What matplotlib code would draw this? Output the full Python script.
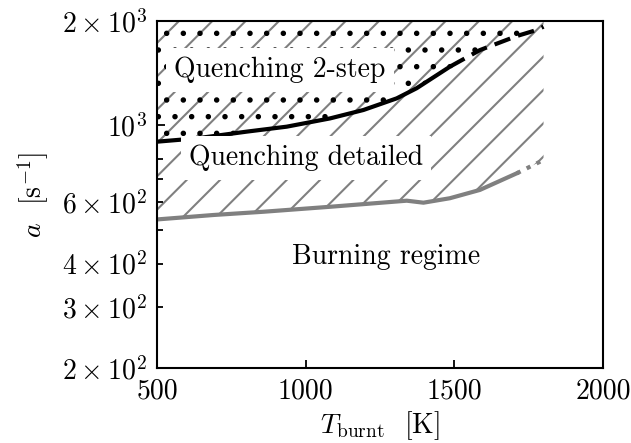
import numpy as np
import matplotlib
matplotlib.use('Agg')
from matplotlib import pyplot as plt

# quenching limit, 2-step chemistry (solid, then dashed)
T_2step = [500, 633, 802, 936, 1082, 1194, 1306, 1373, 1485]
a_2step = [898, 918, 960, 992, 1048, 1108, 1197, 1280, 1477]
T_2step_ext = [1485, 1586, 1710, 1777, 1800]
a_2step_ext = [1477, 1649, 1810, 1884, 1926]

# quenching limit, detailed chemistry (solid, then dotted)
T_det = [500, 689, 857, 1082, 1340, 1396, 1485, 1586, 1710]
a_det = [536, 552, 564, 583, 607, 599, 617, 652, 728]
T_det_ext = [1710, 1788, 1800]
a_det_ext = [728, 786, 795]

a_top = 2000

plt.rcParams['font.family'] = 'serif'
plt.rcParams['font.serif'] = ['cmr10']
plt.rcParams['mathtext.fontset'] = 'cm'
plt.rcParams['axes.formatter.use_mathtext'] = True
plt.rcParams['font.size'] = 20
plt.rcParams['hatch.linewidth'] = 1.5

fig = plt.figure(figsize=(6.31, 4.43), dpi=100)
ax = fig.add_axes([0.249, 0.1693, 0.7066, 0.7833])

T_all = np.array(T_det + T_det_ext[1:])
a_all = np.array(a_det + a_det_ext[1:])
ax.fill_between(T_all, a_all, a_top, facecolor='none', edgecolor='gray',
                hatch='/', linewidth=0)
T2_all = np.array(T_2step + T_2step_ext[1:])
a2_all = np.array(a_2step + a_2step_ext[1:])
ax.fill_between(T2_all, a2_all, a_top, facecolor='none', edgecolor='black',
                hatch='.', linewidth=0)

ax.plot(T_2step, a_2step, color='black', lw=3)
ax.plot(T_2step_ext, a_2step_ext, color='black', lw=3, ls=(0, (4, 2)))
ax.plot(T_det, a_det, color='gray', lw=3)
ax.plot(T_det_ext, a_det_ext, color='gray', lw=3, ls=':')

box = dict(boxstyle='square,pad=0.3', facecolor='white', edgecolor='none')
ax.text(0.276, 0.859, 'Quenching 2-step', transform=ax.transAxes,
        ha='center', va='center', bbox=box)
ax.text(0.334, 0.605, 'Quenching detailed', transform=ax.transAxes,
        ha='center', va='center', bbox=box)
ax.text(0.513, 0.32, 'Burning regime', transform=ax.transAxes,
        ha='center', va='center')

ax.set_yscale('log')
ax.set_xlim(500, 2000)
ax.set_ylim(200, 2000)
ax.set_xticks([500, 1000, 1500, 2000])
ax.set_xticklabels(['500', '1000', '1500', '2000'])
ax.tick_params(which='both', direction='in', width=1.3)
ax.tick_params(which='major', length=6)
ax.tick_params(which='minor', length=4)
ax.tick_params(axis='x', which='both', pad=7)
ax.tick_params(axis='y', which='both', pad=7)
for s in ax.spines.values():
    s.set_linewidth(1.5)

ax.set_xlabel(r'$T_\mathrm{burnt}$  [K]', labelpad=4)
ax.set_ylabel(r'$a$  [s$^{-1}$]', labelpad=8)

fig.savefig('out.png', dpi=100)
